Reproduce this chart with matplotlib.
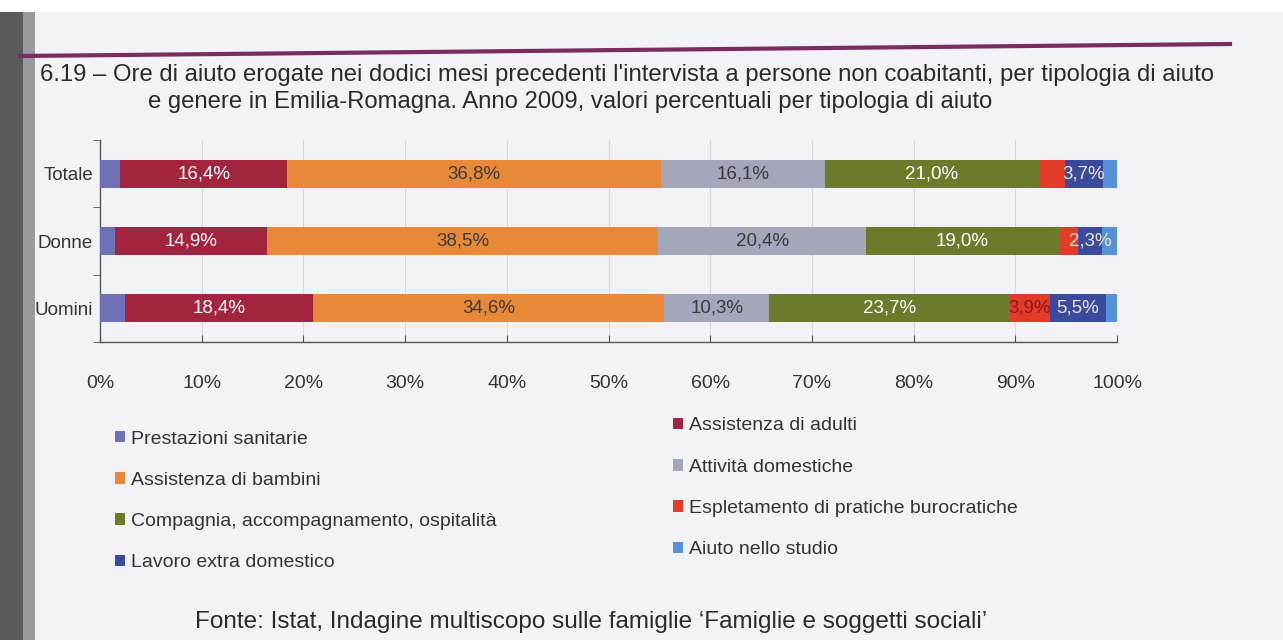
import matplotlib
matplotlib.use("Agg")
import matplotlib.pyplot as plt
from matplotlib.patches import Patch, Rectangle
from matplotlib import font_manager as fm

# ---------------- data ----------------
groups = ["Uomini", "Donne", "Totale"]
series = ["Prestazioni sanitarie", "Assistenza di adulti", "Assistenza di bambini",
          "Attività domestiche", "Compagnia, accompagnamento, ospitalità",
          "Espletamento di pratiche burocratiche", "Lavoro extra domestico",
          "Aiuto nello studio"]
prestazioni = [2.5, 1.5, 2.0]
adulti = [18.4, 14.9, 16.4]
bambini = [34.6, 38.5, 36.8]
domestiche = [10.3, 20.4, 16.1]
compagnia = [23.7, 19.0, 21.0]
pratiche = [3.9, 1.9, 2.6]
lavoro = [5.5, 2.3, 3.7]
studio = [1.1, 1.5, 1.4]
values = [prestazioni, adulti, bambini, domestiche, compagnia, pratiche, lavoro, studio]

# labels shown in the bars: (series index, group index, text)
bar_labels = [
    (1, 2, "16,4%"), (2, 2, "36,8%"), (3, 2, "16,1%"), (4, 2, "21,0%"), (6, 2, "3,7%"),
    (1, 1, "14,9%"), (2, 1, "38,5%"), (3, 1, "20,4%"), (4, 1, "19,0%"), (6, 1, "2,3%"),
    (1, 0, "18,4%"), (2, 0, "34,6%"), (3, 0, "10,3%"), (4, 0, "23,7%"), (5, 0, "3,9%"),
    (6, 0, "5,5%"),
]
xticks = [0, 10, 20, 30, 40, 50, 60, 70, 80, 90, 100]
xticklabels = [f"{t}%" for t in xticks]

# ---------------- styles ----------------
colors = ["#6E70B8", "#A3243F", "#E8893A", "#A4A6BA", "#6B7B2C", "#E33B2A", "#3A4B9E", "#5591D8"]
label_colors = {1: "white", 2: "#3a3a3a", 3: "#3a3a3a", 4: "white", 5: "#8B1A1A", 6: "#EDE3C8"}

names = {f.name for f in fm.fontManager.ttflist}
regular = "Liberation Sans" if "Liberation Sans" in names else "DejaVu Sans"
fam = [regular, "DejaVu Sans"]
plt.rcParams["font.family"] = fam

W, H = 1283, 640
fig = plt.figure(figsize=(W / 100, H / 100), dpi=100)
fig.patch.set_facecolor("#F3F3F7")

def fx(px):
    return px / W

def fy(py):
    return 1 - py / H

# binding shadow at left
fig.patches.append(Rectangle((0, 0), fx(23), fy(12), transform=fig.transFigure,
                             facecolor="#5a5a5a", edgecolor="none", zorder=0))
fig.patches.append(Rectangle((fx(23), 0), fx(12), fy(12), transform=fig.transFigure,
                             facecolor="#9a9a9e", edgecolor="none", zorder=0))
fig.patches.append(Rectangle((0, fy(12)), 1, 12 / H, transform=fig.transFigure,
                             facecolor="white", edgecolor="none", zorder=0))

# purple rule
fig.add_artist(plt.Line2D([fx(20), fx(1230)], [fy(56), fy(44)], transform=fig.transFigure,
                          color="#7A2C5E", lw=3))

# title
fig.text(fx(40), fy(75), "6.19 – Ore di aiuto erogate nei dodici mesi precedenti l'intervista a persone non coabitanti, per tipologia di aiuto",
         fontsize=17.2, color="#2a2a2a", va="center", ha="left", family=fam)
fig.text(fx(148), fy(102), "e genere in Emilia-Romagna. Anno 2009, valori percentuali per tipologia di aiuto",
         fontsize=17.2, color="#2a2a2a", va="center", ha="left", family=fam)

# axes
ax = fig.add_axes([fx(100), fy(342), fx(1117) - fx(100), (342 - 140) / H])
ax.set_facecolor("none")
ypos = list(range(len(groups)))
left = [0.0] * len(groups)
handles = []
for i, (name, vals) in enumerate(zip(series, values)):
    ax.barh(ypos, vals, left=left, height=0.42, color=colors[i], edgecolor="none", zorder=3)
    handles.append(Patch(facecolor=colors[i], edgecolor="none", label=name))
    left = [l + v for l, v in zip(left, vals)]

for si, gi, txt in bar_labels:
    start = sum(values[k][gi] for k in range(si))
    cx = start + values[si][gi] / 2
    ax.text(cx, ypos[gi], txt, ha="center", va="center", fontsize=13.5,
            color=label_colors[si], zorder=4, family=fam)

ax.set_xlim(0, 100)
ax.set_ylim(-0.42, 2.5)
ax.set_xticks(xticks)
ax.set_xticklabels(xticklabels, fontsize=14, color="#333333", family=fam, stretch="condensed")
ax.tick_params(axis="x", direction="in", length=5, pad=24, color="#555555")
ax.set_yticks(ypos)
ax.set_yticklabels(groups, fontsize=13.5, color="#333333", family=fam, stretch="condensed")
ax.tick_params(axis="y", length=0, pad=5)
ax.set_yticks([-0.5, 0.5, 1.5, 2.5], minor=True)
ax.tick_params(axis="y", which="minor", length=5, direction="out", color="#555555")
ax.grid(axis="x", color="#D6D6DE", lw=0.8, zorder=0)
for s in ["top", "right"]:
    ax.spines[s].set_visible(False)
for s in ["left", "bottom"]:
    ax.spines[s].set_color("#555555")
    ax.spines[s].set_linewidth(1.0)

# legends (two columns)
order_left = [0, 2, 4, 6]
order_right = [1, 3, 5, 7]
leg_kw = dict(frameon=False, handlelength=0.55, handleheight=0.55,
              handletextpad=0.3, labelspacing=1.25, labelcolor="#333333",
              prop={"family": fam, "size": 14})
fig.legend([handles[i] for i in order_left], [series[i] for i in order_left],
           loc="upper left", bbox_to_anchor=(fx(97), fy(413)), **leg_kw)
fig.legend([handles[i] for i in order_right], [series[i] for i in order_right],
           loc="upper left", bbox_to_anchor=(fx(655), fy(400)), **leg_kw)

# source
fig.text(fx(195), fy(622), "Fonte: Istat, Indagine multiscopo sulle famiglie \u2018Famiglie e soggetti sociali\u2019",
         fontsize=17.5, color="#2a2a2a", va="center", ha="left", family=fam)

fig.savefig("out.png", dpi=100, facecolor=fig.get_facecolor())
